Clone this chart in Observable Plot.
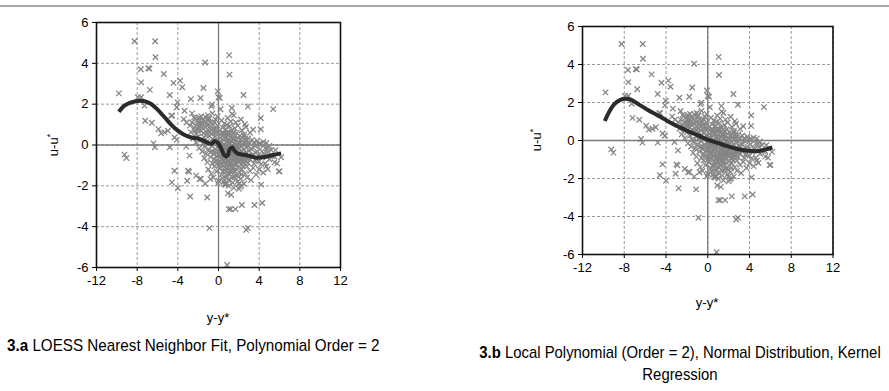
<!DOCTYPE html>
<html>
<head>
<meta charset="utf-8">
<script src="https://cdn.jsdelivr.net/npm/d3@7"></script>
<script src="https://cdn.jsdelivr.net/npm/@observablehq/plot@0.6"></script>
<style>
  html, body { margin: 0; padding: 0; background: #fff; }
  #root { position: relative; width: 889px; height: 391px; overflow: hidden; background: #fff; font-family: "Liberation Sans", Arial, sans-serif; color: #000; }
  .topbar { position: absolute; left: 0; top: 5px; width: 889px; height: 2px; background: #a6a6a6; }
  .panel { position: absolute; top: 0; }
  .panel svg text { font-size: 13px !important; fill: #000; }
  .lbl { position: absolute; font-size: 13px; white-space: nowrap; transform: translate(-50%, -50%); }
  .rot { transform: translate(-50%, -50%) rotate(-90deg); }
  .cap { position: absolute; font-family: "Liberation Sans", Arial, sans-serif; font-size: 17px; white-space: nowrap; }
  sup { font-size: 9px; vertical-align: 5px; }
</style>
</head>
<body>
<div id="root">
  <div class="topbar"></div>
  <div id="p1" class="panel" style="left:0px"></div>
  <div id="p2" class="panel" style="left:480px"></div>
  <div class="lbl rot" style="left:53px; top:145px">u-u<sup>*</sup></div>
  <div class="lbl" style="left:218px; top:317px">y-y*</div>
  <div class="lbl rot" style="left:536px; top:140px">u-u<sup>*</sup></div>
  <div class="lbl" style="left:707px; top:302px">y-y*</div>
  <div class="cap" style="left:7px; top:336px; transform: scaleX(0.895); transform-origin: 0 0"><b>3.a</b> LOESS Nearest Neighbor Fit, Polynomial Order = 2</div>
  <div class="cap" style="left:680px; top:342px; transform: translateX(-50%) scaleX(0.875); transform-origin: 50% 0; text-align:center; line-height:22px"><b>3.b</b> Local Polynomial (Order = 2), Normal Distribution, Kernel<br>Regression</div>
</div>
<script>
const xTicks = [-12, -8, -4, 0, 4, 8, 12];
const yTicks = [-6, -4, -2, 0, 2, 4, 6];

// scattered residual points (outliers)
const outlierPoints = [
  [-8.26,5.08],[-6.23,5.08],[-6.2,4.3],[-7.64,3.71],[-6.89,3.76],[-6.8,3.74],[-5.38,3.48],[-7.61,3.07],
  [-4.43,3.04],[-3.77,3.15],[-3.57,2.83],[-9.8,2.53],[-6.75,2.7],[-4.79,2.45],[-2.72,2.25],[-1.77,2.3],
  [-1.48,2.79],[-1.31,4.04],[1.05,4.4],[1.08,3.45],[2.46,2.45],[-0.07,2.63],[0.0,2.34],[0.12,2.3],
  [2.89,1.88],[5.38,1.76],[4.16,1.32],[4.16,0.77],[1.31,1.81],[1.34,1.52],[-7.93,2.34],[-7.61,2.34],
  [-7.28,1.93],[-7.21,1.19],[-6.56,1.09],[-4.03,2.09],[-4.1,1.85],[-3.34,1.68],[-3.41,1.27],[-4.56,1.44],
  [-5.9,0.78],[-5.64,0.57],[-5.31,0.62],[-4.98,0.7],[-4.33,0.37],[-4.1,0.25],[-6.39,0.08],[-6.26,-0.11],
  [-4.79,-0.11],[-9.25,-0.47],[-9.05,-0.64],[-3.18,-0.08],[-2.85,-0.52],[-4.33,-1.26],[-2.9,-1.31],
  [-4.59,-1.83],[-4.0,-2.11],[-2.79,-2.52],[-1.11,-2.57],[-1.74,-1.65],[-0.79,-1.67],[0.85,-1.88],
  [0.92,-2.37],[1.25,-2.44],[2.23,-1.99],[4.2,-1.94],[6.0,-1.29],[5.77,-0.9],[4.85,-1.18],[5.61,-0.25],
  [6.16,-0.6],[-0.89,-4.07],[0.85,-5.88],[1.02,-3.14],[1.2,-3.14],[1.67,-3.14],[2.3,-2.94],[3.54,-2.94],
  [4.3,-2.84],[2.72,-4.16],[2.89,-4.07],[2.1,-2.05],[2.0,-1.9],[0.59,-1.91],[-0.07,-1.88],[4.2,0.05],
  [5.94,-1.29],[5.51,-0.85],[-3.0,-1.26],[-3.08,-1.75],[-1.87,-1.67],[-0.62,1.99],[-3.15,1.1],[-4.65,1.44]
];

// dense central cloud of residual points
const clusterPoints = [
  [-2.3,1.28],[-2.0,1.12],[-1.9,1.35],[-1.5,1.22],[-1.2,1.05],[-0.9,1.3],[-0.6,1.55],[-0.4,1.12],[-0.1,1.4],
  [0.3,1.2],[0.6,1.05],[0.9,1.32],[1.2,1.15],[1.5,1.45],[1.7,1.1],[2.2,1.25],[2.6,1.02],[-0.7,1.9],[0.2,1.75],[-2.6,1.55],
  [-2.7,0.62],[-2.4,0.85],[-2.2,0.55],[-1.9,0.92],[-1.7,0.7],[-1.5,0.58],[-1.3,0.88],[-1.0,0.72],[-0.8,0.95],
  [-0.7,0.55],[-0.5,0.8],[-0.2,0.62],[-0.1,0.95],[0.1,0.7],[0.4,0.85],[0.5,0.55],[0.7,0.78],[1.0,0.62],[1.1,0.92],
  [1.3,0.7],[1.6,0.82],[1.8,0.58],[1.9,0.95],[2.3,0.72],[2.5,0.52],[2.7,0.88],[3.1,0.6],[3.4,0.75],[0.2,0.52],
  [-0.3,0.78],[0.8,0.98],[1.5,0.6],
  [-2.5,0.32],[-2.2,0.12],[-2.0,0.42],[-1.7,0.25],[-1.5,0.05],[-1.4,0.38],[-1.1,0.18],[-0.9,0.45],[-0.8,0.08],
  [-0.6,0.3],[-0.4,0.15],[-0.3,0.42],[-0.1,0.22],[0.0,0.05],[0.2,0.35],[0.3,0.12],[0.4,0.45],[0.5,0.25],[0.6,0.02],
  [0.7,0.38],[0.8,0.15],[0.9,0.48],[1.0,0.28],[1.1,0.05],[1.2,0.4],[1.3,0.18],[1.4,0.32],[1.5,0.08],[1.6,0.45],
  [1.7,0.22],[1.8,0.02],[1.9,0.35],[2.0,0.12],[2.2,0.28],[2.4,0.05],[2.5,0.42],[2.7,0.18],[2.9,0.32],[3.1,0.08],
  [3.3,0.25],[3.5,0.12],[3.8,0.2],[4.0,0.05],[4.4,0.15],[4.7,0.1],[-1.2,0.48],[0.15,0.18],[0.65,0.32],[1.05,0.15],
  [1.45,0.25],[2.1,0.45],[2.6,0.3],
  [-1.9,-0.15],[-1.6,-0.32],[-1.4,-0.08],[-1.2,-0.42],[-1.0,-0.2],[-0.8,-0.35],[-0.6,-0.05],[-0.5,-0.45],[-0.3,-0.22],
  [-0.2,-0.4],[-0.1,-0.1],[0.0,-0.3],[0.1,-0.48],[0.2,-0.15],[0.3,-0.35],[0.4,-0.02],[0.5,-0.25],[0.6,-0.45],
  [0.7,-0.12],[0.8,-0.3],[0.9,-0.05],[1.0,-0.4],[1.1,-0.2],[1.2,-0.48],[1.3,-0.1],[1.4,-0.32],[1.5,-0.18],
  [1.6,-0.42],[1.7,-0.05],[1.8,-0.28],[1.9,-0.45],[2.0,-0.15],[2.1,-0.35],[2.3,-0.08],[2.4,-0.42],[2.5,-0.22],
  [2.7,-0.38],[2.8,-0.1],[3.0,-0.3],[3.2,-0.18],[3.4,-0.45],[3.6,-0.05],[3.8,-0.32],[4.1,-0.2],[4.4,-0.4],
  [4.6,-0.15],[4.9,-0.35],[5.2,-0.25],[5.0,-0.05],[0.25,-0.05],[0.75,-0.42],[1.25,-0.25],[1.65,-0.22],[2.25,-0.3],
  [0.55,-0.1],[1.85,-0.12],
  [-1.4,-0.65],[-1.1,-0.85],[-0.8,-0.58],[-0.6,-0.92],[-0.4,-0.7],[-0.2,-0.55],[0.0,-0.82],[0.1,-0.62],[0.3,-0.95],
  [0.4,-0.7],[0.5,-0.55],[0.6,-0.85],[0.7,-0.65],[0.8,-0.98],[0.9,-0.75],[1.0,-0.58],[1.1,-0.88],[1.2,-0.68],
  [1.3,-0.52],[1.4,-0.95],[1.5,-0.78],[1.6,-0.6],[1.7,-0.9],[1.8,-0.7],[1.9,-0.55],[2.0,-0.85],[2.2,-0.65],
  [2.3,-0.95],[2.5,-0.75],[2.7,-0.58],[2.9,-0.88],[3.1,-0.7],[3.3,-0.55],[3.5,-0.92],[3.7,-0.68],[4.0,-0.8],
  [4.3,-0.6],[4.6,-0.9],[5.0,-0.7],[5.3,-0.55],[0.95,-0.8],[1.45,-0.65],[0.55,-0.78],[1.75,-0.78],[2.4,-0.82],
  [-1.0,-1.2],[-0.7,-1.4],[-0.4,-1.05],[-0.2,-1.3],[0.1,-1.15],[0.3,-1.45],[0.5,-1.02],[0.7,-1.3],[0.9,-1.12],
  [1.1,-1.42],[1.3,-1.05],[1.5,-1.25],[1.7,-1.48],[1.9,-1.1],[2.1,-1.35],[2.3,-1.18],[2.6,-1.4],[2.8,-1.05],
  [3.1,-1.28],[3.4,-1.12],[3.7,-1.45],[4.0,-1.2],[4.4,-1.35],[4.7,-1.05],[1.2,-1.3],[0.8,-1.48],
  [-0.5,-1.6],[0.0,-1.75],[0.4,-1.62],[0.7,-1.95],[1.0,-1.7],[1.4,-1.85],[1.6,-1.58],[1.9,-1.78],[2.2,-1.65],
  [2.5,-1.9],[2.8,-1.6],[3.2,-1.72],[-1.3,-1.9],[-2.2,-1.5],
  [-2.6,1.1],[-2.4,1.35],[-2.2,0.95],[-2.1,1.2],[-1.8,1.05],[-1.7,1.4],[-1.6,0.85],[-1.4,1.15],[-1.3,1.38],
  [-1.1,0.95],[-1.0,1.25],[-0.8,1.1],[-0.7,0.75],[-0.5,1.0],[-0.3,1.25],[-2.8,0.95],[-2.0,0.75],[-1.2,0.65],
  [-0.9,0.62],[-0.4,0.6],[-1.6,1.0],[-2.3,0.7],[-1.05,1.45],[-1.85,1.2],
  [0.1,0.1],[0.35,-0.2],[0.45,0.6],[0.65,-0.25],[0.85,0.6],[0.95,-0.15],[1.15,0.55],[1.35,-0.4],[1.55,0.3],
  [1.75,-0.6],[1.95,0.15],[2.15,-0.5],[2.35,0.2],[2.55,-0.6],[2.75,0.05],[0.3,-0.7],[0.6,-1.1],[0.9,-0.95],
  [1.2,-0.85],[1.5,-1.1],[1.8,-0.95],[2.1,-0.75],[2.4,-1.05],[2.7,-0.8],[0.2,-0.9],[0.45,-1.3],[0.75,-1.6],
  [1.05,-1.25],[1.35,-1.6],[1.65,-1.3],[1.95,-1.55],[2.25,-1.45],[1.0,-2.0],[1.5,-2.1],[2.0,-2.15],[0.5,-1.8],
  [0.0,-1.0],[-0.3,-0.85],[-0.6,-0.3],[-0.9,0.1],[3.0,-0.55],[3.3,-0.2],[3.6,-0.75],[3.9,-0.5],[4.2,-0.95],
  [4.5,-0.45],[4.8,-0.15],[5.5,-0.55]
];

// LOESS nearest neighbor fit (panel 3.a)
const loessFit = [
  [-9.8,1.63],[-9.25,1.93],[-8.59,2.09],[-7.93,2.16],[-7.28,2.14],[-6.62,2.01],[-5.97,1.72],[-5.31,1.36],
  [-4.66,1.0],[-4.0,0.7],[-3.34,0.49],[-2.68,0.37],[-2.03,0.32],[-1.54,0.23],[-1.05,0.1],[-0.66,0.06],
  [-0.39,0.2],[-0.06,0.1],[0.25,-0.15],[0.5,-0.45],[0.72,-0.56],[0.92,-0.5],[1.1,-0.22],[1.35,-0.12],
  [1.6,-0.3],[1.9,-0.42],[2.5,-0.48],[3.2,-0.56],[3.7,-0.62],[4.36,-0.6],[5.02,-0.53],[5.51,-0.47],[6.16,-0.41]
];

// Kernel local polynomial fit (panel 3.b)
const kernelFit = [
  [-9.86,1.03],[-9.45,1.5],[-8.97,1.9],[-8.33,2.15],[-7.85,2.2],[-7.37,2.15],[-6.73,1.94],[-5.78,1.62],
  [-4.82,1.33],[-3.86,1.03],[-2.9,0.75],[-1.95,0.51],[-0.99,0.28],[-0.03,0.05],[0.93,-0.12],[1.88,-0.3],
  [2.84,-0.45],[3.8,-0.54],[4.76,-0.56],[5.55,-0.47],[6.19,-0.37]
];

const points = outlierPoints.concat(clusterPoints);

function panel(fit, dims) {
  return Plot.plot({
    width: dims.width, height: dims.height,
    marginLeft: dims.ml, marginRight: dims.mr, marginTop: dims.mt, marginBottom: dims.mb,
    style: { fontFamily: "'Liberation Sans', Arial, sans-serif", fontSize: "13px", color: "#000", background: "transparent", overflow: "visible" },
    x: { domain: [-12, 12], label: null },
    y: { domain: [-6, 6], label: null },
    marks: [
      Plot.gridX(xTicks, { stroke: "#9a9a9a", strokeOpacity: 1, strokeDasharray: "3,2", strokeWidth: 1 }),
      Plot.gridY(yTicks, { stroke: "#9a9a9a", strokeOpacity: 1, strokeDasharray: "3,2", strokeWidth: 1 }),
      Plot.ruleX([0], { stroke: "#7a7a7a", strokeWidth: 1.3 }),
      Plot.ruleY([0], { stroke: "#7a7a7a", strokeWidth: 1.3 }),
      Plot.dot(points, { x: d => d[0], y: d => d[1], symbol: "times", r: 2.6, stroke: "#858585", strokeWidth: 1.25 }),
      Plot.line(fit, { x: d => d[0], y: d => d[1], stroke: "#2b2b2b", strokeWidth: 4, curve: "catmull-rom", strokeLinecap: "butt" }),
      Plot.frame({ stroke: "#111", strokeWidth: 1.6 }),
      Plot.axisX(xTicks, { tickSize: 4, tickPadding: 4, tickFormat: d => String(d), label: null }),
      Plot.axisY(yTicks, { tickSize: 4, tickPadding: 4, tickFormat: d => String(d), label: null })
    ]
  });
}

document.getElementById("p1").appendChild(panel(loessFit, { width: 400, height: 330, ml: 96, mr: 60, mt: 22, mb: 63 }));
document.getElementById("p2").appendChild(panel(kernelFit, { width: 409, height: 330, ml: 102, mr: 56.5, mt: 26, mb: 76 }));
</script>
</body>
</html>
